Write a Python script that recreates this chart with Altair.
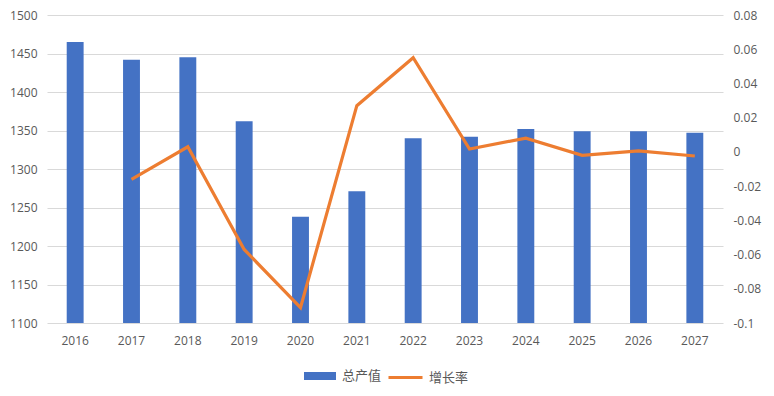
import altair as alt
import pandas as pd

years = ["2016", "2017", "2018", "2019", "2020", "2021", "2022", "2023", "2024", "2025", "2026", "2027"]
output_values = [1465, 1442, 1445, 1362, 1238, 1271, 1340, 1342, 1352, 1349, 1349, 1347]
growth_years = ["2017", "2018", "2019", "2020", "2021", "2022", "2023", "2024", "2025", "2026", "2027"]
growth_values = [-0.016, 0.003, -0.057, -0.091, 0.027, 0.055, 0.0017, 0.008, -0.002, 0.0006, -0.0024]
left_ticks = [1100, 1150, 1200, 1250, 1300, 1350, 1400, 1450, 1500]
right_ticks = [-0.1, -0.08, -0.06, -0.04, -0.02, 0, 0.02, 0.04, 0.06, 0.08]

bar_df = pd.DataFrame({"year": years, "value": output_values, "s": "总产值"})
line_df = pd.DataFrame({"year": growth_years, "rate": growth_values, "s": "增长率"})

axis_font = "Open Sans"
label_color = "#595959"

x = alt.X("year:N", sort=years, title=None,
          scale=alt.Scale(paddingInner=0.7, paddingOuter=0.35),
          axis=alt.Axis(labelAngle=0, domain=False, ticks=False, labelPadding=12,
                        labelFont=axis_font, labelFontSize=12, labelColor=label_color))

bars = alt.Chart(bar_df).mark_bar(color="#4472C4", clip=True).encode(
    x=x,
    y=alt.Y("value:Q", title=None,
            scale=alt.Scale(domain=[1100, 1500], nice=False, zero=False),
            axis=alt.Axis(values=left_ticks, grid=True, gridColor="#d9d9d9", domain=False,
                          ticks=False, labelPadding=10, labelFont=axis_font, labelFontSize=12,
                          labelColor=label_color, format="d")),
    color=alt.Color("s:N", scale=alt.Scale(domain=["总产值"], range=["#4472C4"]),
                    legend=alt.Legend(title=None, orient="none", legendX=256, legendY=344,
                                      symbolType="M-1,-0.25H1V0.25H-1Z", symbolSize=1024,
                                      labelFont="Noto Sans CJK SC", labelFontSize=13,
                                      labelColor=label_color, labelOffset=5)),
)

line = alt.Chart(line_df).mark_line(color="#ED7D31", strokeWidth=3.2).encode(
    x=x,
    y=alt.Y("rate:Q", title=None,
            scale=alt.Scale(domain=[-0.1, 0.08], nice=False, zero=False),
            axis=alt.Axis(orient="right", values=right_ticks, grid=False, domain=False,
                          ticks=False, labelPadding=10, labelFont=axis_font, labelFontSize=12,
                          labelColor=label_color, labelExpr="'' + datum.value")),
    color=alt.Color("s:N", scale=alt.Scale(domain=["增长率"], range=["#ED7D31"]),
                    legend=alt.Legend(title=None, orient="none", legendX=340, legendY=344,
                                      symbolType="stroke", symbolSize=1156, symbolStrokeWidth=3,
                                      labelFont="Noto Sans CJK SC", labelFontSize=13,
                                      labelColor=label_color, labelOffset=5)),
)

chart = alt.layer(bars, line).resolve_scale(
    y="independent", color="independent"
).resolve_legend(color="independent").properties(
    width=676, height=308,
    autosize=alt.AutoSizeParams(type="none"),
    padding={"left": 39, "top": 7, "right": 40, "bottom": 70},
    background="white",
).configure_view(stroke=None)

chart.save("out.html", embed_options={"renderer": "svg", "actions": False})
